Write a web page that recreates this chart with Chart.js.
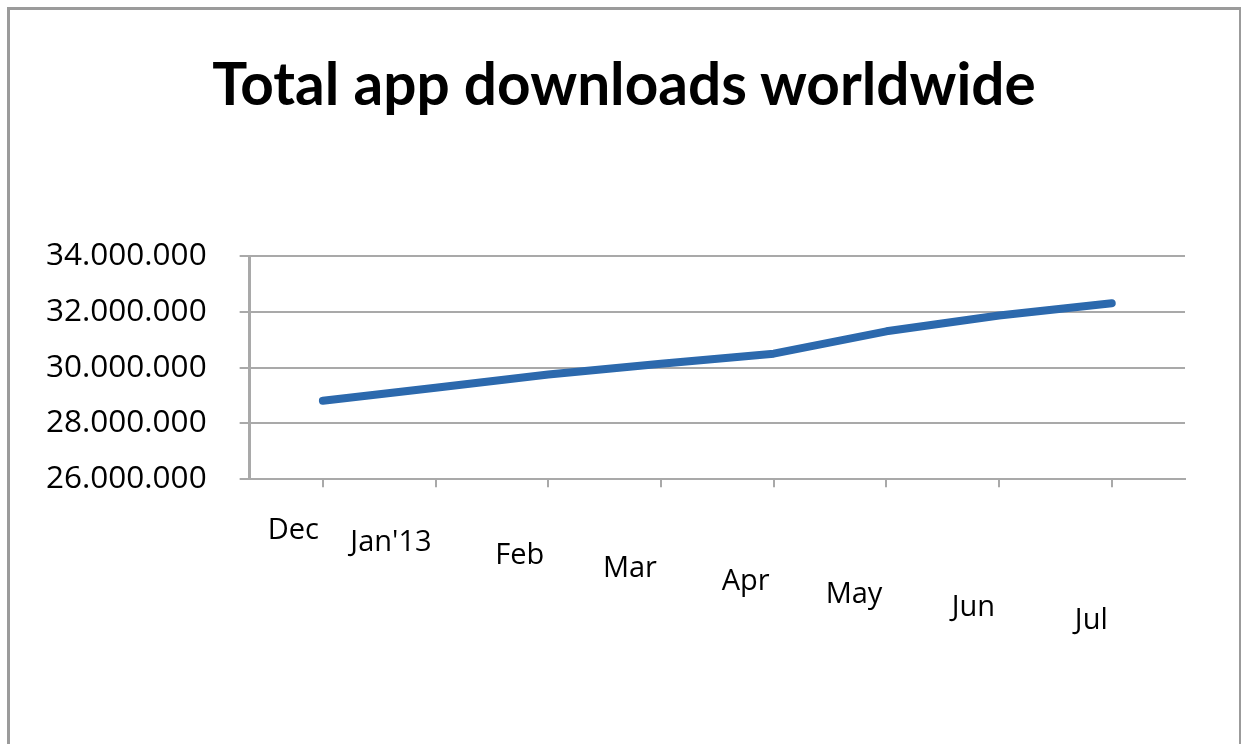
<!DOCTYPE html>
<html>
<head>
<meta charset="utf-8">
<script src="https://cdn.jsdelivr.net/npm/chart.js@4.4.1/dist/chart.umd.min.js"></script>
<style>
  html, body { margin: 0; padding: 0; background: #ffffff; overflow: hidden; }
  #frame { position: absolute; left: 7px; top: 7px; width: 1234px; height: 900px;
           box-sizing: border-box; border: 3px solid #9b9b9b; border-right-width: 2px; }
  #wrap { position: absolute; left: 0; top: 0; width: 1242px; height: 744px; }
  #title { position: absolute; left: 3px; top: 47px; width: 1242px; height: 70px;
           line-height: 70px; text-align: center; font-family: 'Lato', sans-serif;
           font-weight: bold; font-size: 58.5px; color: #000000; white-space: nowrap; }
</style>
</head>
<body>
<div id="frame"></div>
<div id="wrap"><canvas id="c"></canvas></div>
<div id="title"></div>
<script>
// ---- data ----
const titleText = 'Total app downloads worldwide';
const categories = ['Dec', "Jan'13", 'Feb', 'Mar', 'Apr', 'May', 'Jun', 'Jul'];
const downloads = [28810000, 29280000, 29750000, 30140000, 30500000, 31300000, 31870000, 32310000];
const yTicks = [26000000, 28000000, 30000000, 32000000, 34000000];

document.getElementById('title').textContent = titleText;

function fmt(v) {
  return Math.round(v).toString().replace(/\B(?=(\d{3})+(?!\d))/g, '.');
}

const gridGray = '#a9a9a9';

new Chart(document.getElementById('c'), {
  type: 'line',
  data: {
    datasets: [{
      label: titleText,
      data: categories.map((c, i) => ({ x: i, y: downloads[i] })),
      borderColor: '#2c69ad',
      borderWidth: 8,
      pointRadius: 0,
      tension: 0,
      borderCapStyle: 'round',
      borderJoinStyle: 'round'
    }]
  },
  options: {
    responsive: true,
    maintainAspectRatio: false,
    animation: false,
    layout: { padding: { left: 13, right: 57, top: 256, bottom: 79 } },
    plugins: {
      legend: { display: false },
      tooltip: { enabled: false },
      title: { display: false }
    },
    scales: {
      x: {
        type: 'linear',
        min: -0.65,
        max: 7.65,
        afterBuildTicks: (scale) => { scale.ticks = categories.map((c, i) => ({ value: i })); },
        border: { display: true, color: gridGray, width: 2 },
        grid: { display: true, drawOnChartArea: false, color: gridGray, lineWidth: 2, tickLength: 8 },
        ticks: {
          autoSkip: false,
          maxRotation: 0,
          minRotation: 0,
          align: 'end',
          labelOffset: -4,
          padding: 0,
          color: '#000000',
          callback: (v) => ['', categories[Math.round(v)]],
          font: (ctx) => ({ family: 'Open Sans', size: 29, lineHeight: (28.7 + 8.6 * (ctx.index || 0)) + 'px' })
        }
      },
      y: {
        min: 26000000,
        max: 34000000,
        afterBuildTicks: (scale) => { scale.ticks = yTicks.map(v => ({ value: v })); },
        border: { display: true, color: gridGray, width: 3 },
        grid: { color: gridGray, lineWidth: 2, tickLength: 10 },
        ticks: {
          padding: 33,
          color: '#000000',
          font: { family: 'Open Sans', size: 31.5 },
          callback: (v) => fmt(v)
        }
      }
    }
  }
});
</script>
</body>
</html>
